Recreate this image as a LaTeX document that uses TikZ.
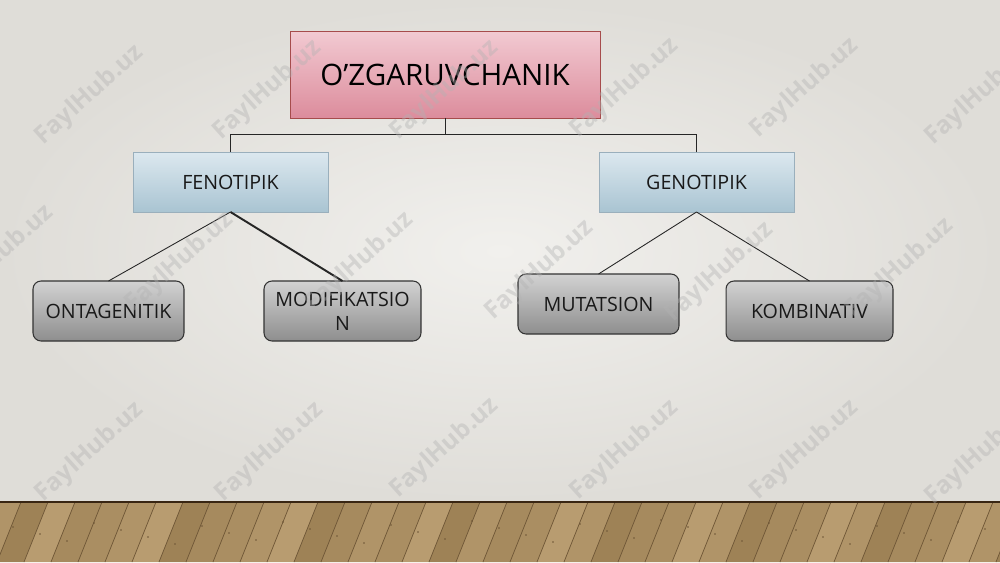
\documentclass[tikz,border=0pt]{standalone}
\usepackage{fontspec}
\setmainfont{Open Sans}
\newfontfamily\wmfont{Open Sans}
\begin{document}
\begin{tikzpicture}[x=0.02cm,y=-0.02cm,
  topbox/.style={draw=red!50!black!70, line width=0.5pt, top color=pinktop, bottom color=pinkbot,
    minimum width=6.2cm, minimum height=1.74cm, inner sep=0pt, outer sep=0pt,
    font=\fontsize{16.8}{19}\selectfont, text=black},
  midbox/.style={draw=bluebd, line width=0.5pt, top color=bluetop, bottom color=bluebot,
    minimum width=3.9cm, minimum height=1.2cm, inner sep=0pt, outer sep=0pt,
    font=\fontsize{11.2}{13.5}\selectfont, text=black!90},
  leafbox/.style={draw=black!80, line width=0.6pt, rounded corners=0.16cm, top color=graytop, bottom color=graybot,
    minimum height=1.2cm, inner sep=0pt, outer sep=0pt,
    font=\fontsize{11.2}{13.5}\selectfont, text=black!90, align=center},
  conn/.style={draw=black!85, line width=0.5pt},
  wm/.style={font=\wmfont\bfseries\fontsize{14}{14}\selectfont, text=gray!60, opacity=0.4, rotate=42}
]
\definecolor{pinktop}{HTML}{F2CAD2}
\definecolor{pinkbot}{HTML}{DC8C9C}
\definecolor{bluetop}{HTML}{DCE8EF}
\definecolor{bluebot}{HTML}{A9C4D2}
\definecolor{bluebd}{HTML}{9AAFBC}
\definecolor{graytop}{HTML}{D2D2D2}
\definecolor{graybot}{HTML}{8E8E8E}
\definecolor{bgin}{HTML}{F1F0ED}
\definecolor{bgout}{HTML}{DFDDD8}
\definecolor{woodA}{HTML}{A68A5E}
\definecolor{woodB}{HTML}{B09468}
\definecolor{woodC}{HTML}{9E8256}
\definecolor{woodD}{HTML}{B89C70}
\definecolor{woodE}{HTML}{AA8E62}
\definecolor{woodline}{HTML}{6E5636}
\useasboundingbox (0,0) rectangle (1000,562);
% background
\shade[inner color=bgin, outer color=bgout] (0,0) rectangle (1000,502);
% floor
\fill[woodA] (0,502) rectangle (1000,562);
\begin{scope}
\clip (0,502) rectangle (1000,562);
\foreach \i/\c in {0/woodB,1/woodC,2/woodD,3/woodA,4/woodE,5/woodB,6/woodD,7/woodC,8/woodA,9/woodE,10/woodB,11/woodD,12/woodC,13/woodA,14/woodB,15/woodE,16/woodD,17/woodC,18/woodB,19/woodA,20/woodE,21/woodD,22/woodB,23/woodC,24/woodA,25/woodE,26/woodD,27/woodB,28/woodC,29/woodA,30/woodE,31/woodD,32/woodB,33/woodC,34/woodA,35/woodE,36/woodD,37/woodB,38/woodC}{
  \fill[\c] ({-30+\i*27},562) -- ({-6+\i*27},502) -- ({21+\i*27},502) -- ({-3+\i*27},562) -- cycle;
  \draw[woodline, line width=0.4pt] ({-30+\i*27},562) -- ({-6+\i*27},502);
  \fill[woodline] ({-14+\i*27},{520+mod(\i*7,25)}) circle (0.9);
}
\end{scope}
\draw[black!70!brown, line width=1pt] (0,502) -- (1000,502);
% nodes
\node[topbox] (top) at (445,74.5) {O’ZGARUVCHANIK};
\node[midbox] (feno) at (230.5,182) {FENOTIPIK};
\node[midbox] (geno) at (696.5,182) {GENOTIPIK};
\node[leafbox, minimum width=3.02cm] (onta) at (108.5,311) {ONTAGENITIK};
\node[leafbox, minimum width=3.14cm] (modi) at (342.5,311) {MODIFIKATSIO\\N};
\node[leafbox, minimum width=3.22cm] (muta) at (598.5,304) {MUTATSION};
\node[leafbox, minimum width=3.34cm] (komb) at (809.5,311) {KOMBINATIV};
% connectors
\draw[conn] (top.south) -- ++(0,16) -| (feno.north);
\draw[conn] (top.south) -- ++(0,16) -| (geno.north);
\draw[conn] (feno.south) -- (onta.north);
\draw[conn, line width=1.1pt] (feno.south) -- (modi.north);
\draw[conn] (geno.south) -- (muta.north);
\draw[conn] (geno.south) -- (komb.north);
% watermarks
\foreach \x/\y [count=\k] in {90/95,268/90,445/90,625/88,805/88,980/95,0/255,180/262,360/262,540/270,720/272,900/268,90/452,270/452,445/448,625/450,805/450,980/455}{
  \node[wm] (wm\k) at (\x,\y) {FaylHub.uz};
}
\end{tikzpicture}
\end{document}
